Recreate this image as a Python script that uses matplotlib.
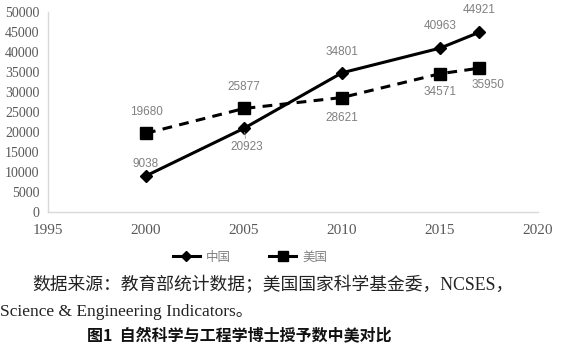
import matplotlib
matplotlib.use("Agg")
import matplotlib.pyplot as plt
from matplotlib.lines import Line2D

years_cn = [2000, 2005, 2010, 2015, 2017]
china = [9038, 20923, 34801, 40963, 44921]
years_us = [2000, 2005, 2010, 2015, 2017]
usa = [19680, 25877, 28621, 34571, 35950]
xticks = [1995, 2000, 2005, 2010, 2015, 2020]
yticks = list(range(0, 50001, 5000))
series_names = ["中国", "美国"]

# label offsets in pixels (dx, dy)
cn_off = [(0, 12), (3, -19), (0, 21), (0, 22), (0, 22)]
us_off = [(0, 21), (0, 21), (0, -20), (0, -18), (9, -17)]

plt.rcParams['font.family'] = ['Noto Sans CJK SC', 'DejaVu Sans']

fig = plt.figure(figsize=(5.63, 3.6), dpi=100)
ax = fig.add_axes([48/563, 1-212/360, (538-48)/563, 200/360])

ax.plot(years_cn, china, color='black', lw=2.2, marker='D', ms=6.5, label=series_names[0])
ax.plot(years_us, usa, color='black', lw=2.2, ls=(0, (3.2, 2.4)), marker='s', ms=9,
        label=series_names[1])

ax.set_xlim(1995, 2020)
ax.set_ylim(0, 50000)
ax.set_xticks(xticks)
ax.set_yticks(yticks)
ax.set_xticklabels([str(t) for t in xticks], family='Liberation Serif', fontsize=11,
                   color='#595959')
ax.set_yticklabels([str(t) for t in yticks], family='Liberation Serif', fontsize=10,
                   color='#595959')
ax.tick_params(axis='both', length=0)
ax.tick_params(axis='y', pad=6)
ax.tick_params(axis='x', pad=9)
for s in ['top', 'right']:
    ax.spines[s].set_visible(False)
for s in ['left', 'bottom']:
    ax.spines[s].set_color('#d9d9d9')
    ax.spines[s].set_linewidth(1.0)

for x, y, (dx, dy) in zip(years_cn, china, cn_off):
    kw = {}
    if dy < 0 and dx > 0:
        kw['arrowprops'] = dict(arrowstyle='-', color='#a0a0a0', lw=0.6,
                                shrinkA=0, shrinkB=3)
    ax.annotate(str(y), (x, y), xytext=(dx, dy), textcoords='offset pixels',
                ha='center', va='center', fontsize=8.5, color='#808080',
                family='Liberation Sans', **kw)
for x, y, (dx, dy) in zip(years_us, usa, us_off):
    ax.annotate(str(y), (x, y), xytext=(dx, dy), textcoords='offset pixels',
                ha='center', va='center', fontsize=8.5, color='#808080',
                family='Liberation Sans')

handles = [Line2D([], [], color='black', lw=2.2, marker='D', ms=5.5),
           Line2D([], [], color='black', lw=2.2, marker='s', ms=7.5)]
fig.legend(handles, series_names, loc='center', bbox_to_anchor=(250/563, 1-257/360),
           ncol=2, frameon=False, fontsize=9, labelcolor='#808080',
           handlelength=2.2, columnspacing=3.0, handletextpad=0.5)

fig.text(32/563, 1-285/360, "数据来源：教育部统计数据；美国国家科学基金委，NCSES，",
         family=['Liberation Serif', 'Noto Sans CJK SC'], fontsize=12.8, va='center',
         ha='left', color='#222222')
fig.text(0/563, 1-312/360, "Science & Engineering Indicators。",
         family=['Liberation Serif', 'Noto Sans CJK SC'], fontsize=12.5, va='center',
         ha='left', color='#222222')
fig.text(239/563, 1-336/360, "图1  自然科学与工程学博士授予数中美对比",
         family=['Noto Sans CJK SC', 'DejaVu Sans'], fontsize=11.5, fontweight='bold',
         va='center', ha='center', color='#111111')

fig.savefig("out.png", dpi=100)
